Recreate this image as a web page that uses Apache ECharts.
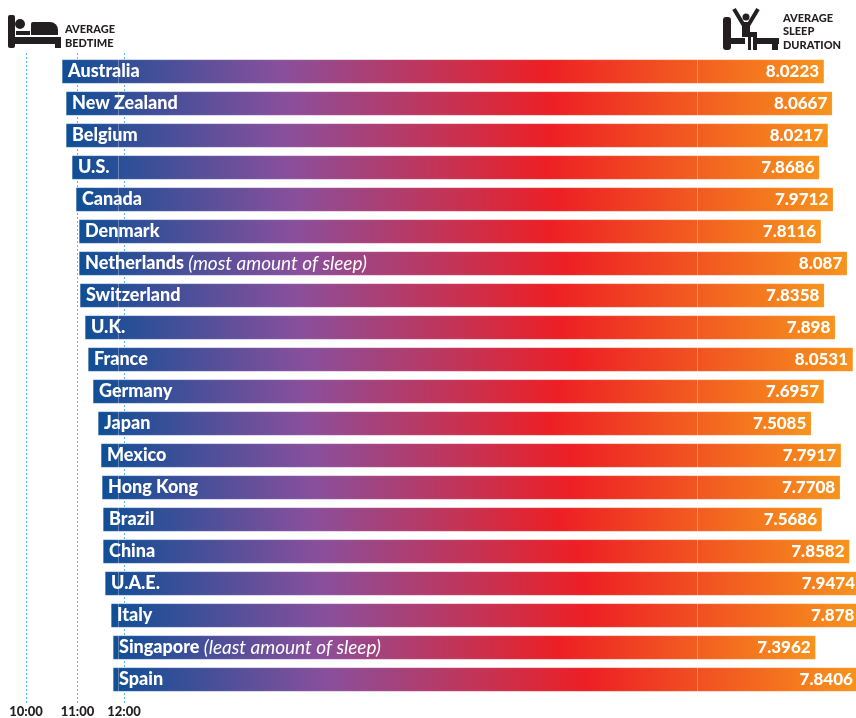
<!DOCTYPE html>
<html><head><meta charset="utf-8">
<style>html,body{margin:0;padding:0;background:#fff;overflow:hidden}#c{width:856px;height:718px}</style>
<script src="https://cdn.jsdelivr.net/npm/echarts@6/dist/echarts.min.js"></script>
</head><body><div id="c"></div>
<script>
const countries = ['Australia','New Zealand','Belgium','U.S.','Canada','Denmark','Netherlands','Switzerland','U.K.','France','Germany','Japan','Mexico','Hong Kong','Brazil','China','U.A.E.','Italy','Singapore','Spain'];
const notes = {Netherlands:'(most amount of sleep)', Singapore:'(least amount of sleep)'};
// hours after 10:00, on the scale the bar lengths use
const bedtime = [0.379,0.421,0.421,0.484,0.526,0.558,0.558,0.568,0.621,0.653,0.705,0.758,0.789,0.8,0.811,0.811,0.832,0.895,0.916,0.916];
const duration = [8.0223,8.0667,8.0217,7.8686,7.9712,7.8116,8.087,7.8358,7.898,8.0531,7.6957,7.5085,7.7917,7.7708,7.5686,7.8582,7.9474,7.878,7.3962,7.8406];
const tickValues = [0,0.542,1.032];
const tickLabels = ['10:00','11:00','12:00'];
const ruleValues = [0.968,7.074];

const FONT = 'Lato,"Liberation Sans",sans-serif';
const INK = '#231f20';
const gradient = {type:'linear',x:0,y:0,x2:1,y2:0,colorStops:[
  {offset:0,color:'#0f4f96'},{offset:0.29,color:'#8a4f9c'},{offset:0.635,color:'#ed1f24'},{offset:1,color:'#f7941d'}]};

const chart = echarts.init(document.getElementById('c'),null,{renderer:'canvas'});
const headerText = (x,y,t)=>({type:'text',x,y,z:20,style:{text:t,fill:INK,font:'900 11px '+FONT,textVerticalAlign:'middle'}});
const r=(x,y,w,h,rr)=>({type:'rect',shape:{x,y,width:w,height:h,r:rr||0},style:{fill:INK},z:20});
const c=(cx,cy,rad)=>({type:'circle',shape:{cx,cy,r:rad},style:{fill:INK},z:20});
const pl=(pts,w)=>({type:'polyline',shape:{points:pts},style:{stroke:INK,lineWidth:w,fill:null},z:20});

chart.setOption({
  animation:false,
  backgroundColor:'#fff',
  grid:[
    {left:26,right:0,top:55.5,height:640,containLabel:false},
    {left:26,right:0,top:52,height:653,containLabel:false}
  ],
  xAxis:[
    {gridIndex:0,type:'value',min:0,max:8.7368,show:false},
    {gridIndex:1,type:'value',min:0,max:8.7368,position:'bottom',
      axisLine:{show:false},
      axisTick:{show:false,customValues:tickValues},
      axisLabel:{show:true,customValues:tickValues,margin:2,hideOverlap:false,showMinLabel:true,
        color:INK,fontFamily:FONT,fontWeight:900,fontSize:13,
        formatter:v=>tickLabels[tickValues.indexOf(v)]},
      splitLine:{show:false}}
  ],
  yAxis:[
    {gridIndex:0,type:'category',data:countries,inverse:true,show:false},
    {gridIndex:1,type:'category',data:['a'],show:false}
  ],
  series:[
    {type:'bar',xAxisIndex:1,yAxisIndex:1,data:[],z:1,silent:true,
      markLine:{silent:true,symbol:'none',z:1,label:{show:false},
        lineStyle:{color:'#5bbde0',type:[2,2],width:1},
        data:tickValues.map(v=>({xAxis:v}))}},
    {name:'bedtime',type:'bar',stack:'s',data:bedtime,barWidth:24,z:3,clip:false,
      itemStyle:{color:'transparent'},
      label:{show:true,position:'right',distance:6,color:'#fff',
        fontFamily:FONT,fontWeight:900,fontSize:18,
        formatter:p=>{const n=countries[p.dataIndex];return notes[n]?`${n} {n|${notes[n]}}`:n;},
        rich:{n:{color:'#fff',fontFamily:FONT,fontStyle:'italic',fontWeight:'normal',fontSize:19}}}},
    {name:'duration',type:'bar',stack:'s',data:duration,barWidth:24,z:3,clip:false,
      itemStyle:{color:gradient,borderColor:'rgba(255,255,255,0.3)',borderWidth:0.5},
      label:{show:true,position:'insideRight',distance:5,color:'#fff',
        fontFamily:FONT,fontWeight:900,fontSize:17,
        formatter:p=>String(p.value)},
      markLine:{silent:true,symbol:'none',z:4,label:{show:false},
        lineStyle:{color:'rgba(255,255,255,0.3)',type:'solid',width:1},
        data:ruleValues.map(v=>({xAxis:v}))}}
  ],
  graphic:[
    // bed
    r(8,15,7,33,2), r(8,37,53,7), r(55,37,6,11), c(20,24,5), r(16,31,14,4), r(31,22,27,13,[2,8,0,0]),
    headerText(65,29,'AVERAGE'), headerText(65,43,'BEDTIME'),
    // waking figure
    r(723,17,8,33,3), r(723,38,22,6), r(755,38,24,6), r(772,38,6,12),
    c(746,17,3.5), pl([[734,9],[743,24],[749,24],[758,9]],4),
    r(742,23,8,14), r(742,32,15,5), r(748,36,3,14), r(753,36,4,14),
    headerText(783,18,'AVERAGE'), headerText(783,31,'SLEEP'), headerText(783,45,'DURATION')
  ]
});
</script></body></html>
